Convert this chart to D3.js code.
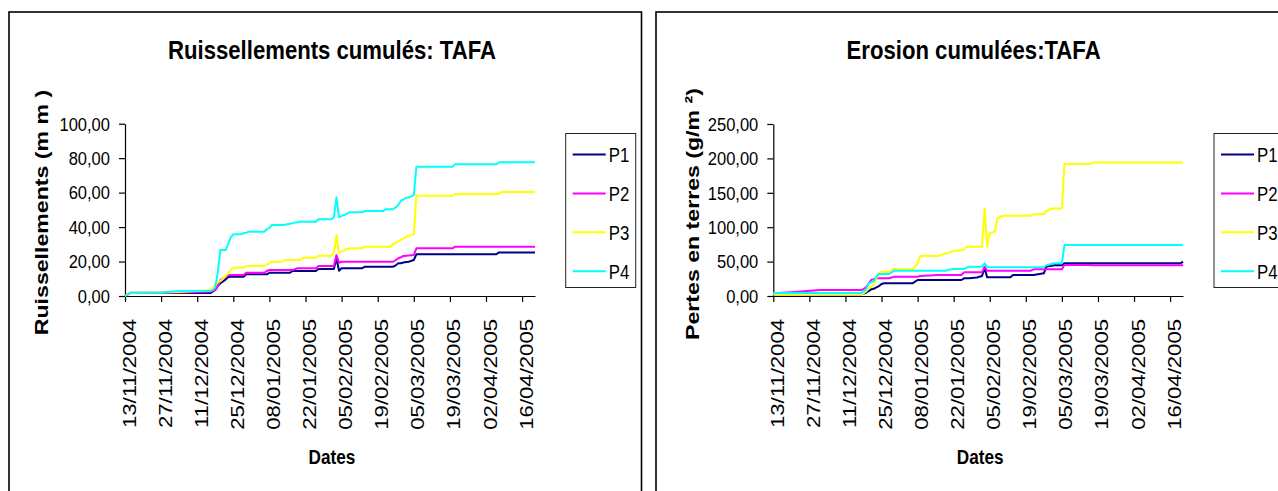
<!DOCTYPE html>
<html>
<head>
<meta charset="utf-8">
<script src="https://cdn.jsdelivr.net/npm/d3@7"></script>
<style>
  html, body { margin: 0; padding: 0; background: #ffffff; }
  svg { display: block; }
</style>
</head>
<body>
<svg id="fig" width="1278" height="491"></svg>
<script>
// ---- series ----
const seriesNames = ["P1", "P2", "P3", "P4"];
const seriesColors = ["#000080", "#FF00FF", "#FFFF00", "#00FFFF"];

// ---- x-axis tick labels (every 14 days) ----
const tickLabels = ["13/11/2004", "27/11/2004", "11/12/2004", "25/12/2004", "08/01/2005", "22/01/2005",
                    "05/02/2005", "19/02/2005", "05/03/2005", "19/03/2005", "02/04/2005", "16/04/2005"];

// ---- y-axis ticks ----
const ruisTicks = [0, 20, 40, 60, 80, 100];
const pertesTicks = [0, 50, 100, 150, 200, 250];

// ---- cumulative runoff (mm) ----
const ruisDates = ["13/11/2004", "15/11/2004", "27/11/2004", "04/12/2004", "16/12/2004", "17/12/2004",
  "18/12/2004", "19/12/2004", "20/12/2004", "22/12/2004", "23/12/2004", "24/12/2004", "25/12/2004",
  "28/12/2004", "29/12/2004", "30/12/2004", "31/12/2004", "06/01/2005", "07/01/2005", "08/01/2005",
  "09/01/2005", "13/01/2005", "14/01/2005", "16/01/2005", "17/01/2005", "18/01/2005", "19/01/2005",
  "20/01/2005", "21/01/2005", "26/01/2005", "27/01/2005", "01/02/2005", "02/02/2005", "03/02/2005",
  "04/02/2005", "05/02/2005", "06/02/2005", "08/02/2005", "13/02/2005", "14/02/2005", "21/02/2005",
  "22/02/2005", "24/02/2005", "25/02/2005", "26/02/2005", "27/02/2005", "28/02/2005", "01/03/2005",
  "02/03/2005", "03/03/2005", "05/03/2005", "06/03/2005", "20/03/2005", "21/03/2005", "06/04/2005",
  "07/04/2005", "08/04/2005", "21/04/2005"];
const ruisP1 = [0, 1.7, 1.7, 1.7, 1.7, 2.6, 3.5, 6.0, 7.4, 9.5, 11.0, 11.2, 11.2, 11.2, 11.2, 12.6, 12.6,
  12.6, 12.6, 13.5, 13.5, 13.5, 13.5, 13.5, 14.5, 14.5, 14.5, 14.5, 14.5, 14.5, 15.7, 15.7, 15.7, 21.9,
  14.7, 16.1, 16.1, 16.1, 16.1, 17.0, 17.0, 17.0, 17.0, 17.0, 17.8, 19.0, 19.0, 19.4, 19.7, 19.9, 20.9,
  24.2, 24.2, 24.2, 24.2, 25.3, 25.3, 25.3];
const ruisP2 = [0, 1.9, 1.9, 2.0, 2.4, 3.0, 3.5, 5.8, 9.3, 11.0, 12.2, 12.2, 12.2, 12.2, 12.2, 13.5, 13.5,
  13.5, 14.5, 15.1, 15.1, 15.1, 15.1, 15.1, 15.1, 15.6, 16.1, 16.1, 16.1, 16.1, 17.4, 17.4, 17.4, 23.8,
  19.3, 19.9, 19.9, 19.9, 19.9, 19.9, 19.9, 19.9, 19.9, 19.9, 20.9, 21.9, 22.5, 23.2, 23.4, 23.5, 23.8,
  27.7, 27.7, 28.6, 28.6, 28.6, 28.6, 28.6];
const ruisP3 = [0, 1.9, 2.0, 2.3, 3.3, 4.5, 6.4, 8.0, 8.7, 11.6, 13.0, 15.0, 16.4, 16.4, 16.4, 17.4, 17.4,
  17.4, 18.2, 19.0, 19.9, 19.9, 20.9, 20.9, 20.9, 20.9, 20.9, 20.9, 22.2, 22.2, 23.4, 23.4, 24.8, 35.4,
  25.0, 25.7, 26.7, 27.7, 27.7, 28.6, 28.6, 28.6, 28.6, 30.2, 31.0, 31.8, 32.5, 33.2, 34.4, 34.8, 35.8,
  58.2, 58.2, 59.2, 59.2, 59.2, 60.3, 60.3];
const ruisP4 = [0, 1.9, 2.1, 2.9, 3.1, 3.4, 5.0, 14.0, 26.7, 26.7, 30.0, 34.1, 35.8, 35.8, 36.4, 36.8, 37.3,
  37.3, 38.7, 39.5, 41.2, 41.2, 41.3, 41.9, 42.3, 42.6, 42.8, 43.1, 43.1, 43.1, 44.5, 44.5, 45.7, 57.3,
  45.7, 46.5, 47.0, 48.6, 48.6, 49.3, 49.3, 50.3, 50.3, 50.3, 51.5, 52.8, 55.3, 56.0, 57.0, 57.1, 58.6,
  75.0, 75.0, 76.4, 76.4, 77.6, 77.6, 77.6];

// ---- cumulative soil loss (g/m²) ----
const pertesDates = ["13/11/2004", "20/11/2004", "01/12/2004", "17/12/2004", "18/12/2004", "19/12/2004",
  "20/12/2004", "21/12/2004", "22/12/2004", "23/12/2004", "24/12/2004", "25/12/2004", "26/12/2004",
  "28/12/2004", "30/12/2004", "06/01/2005", "08/01/2005", "09/01/2005", "16/01/2005", "19/01/2005",
  "20/01/2005", "22/01/2005", "25/01/2005", "26/01/2005", "27/01/2005", "28/01/2005", "31/01/2005",
  "02/02/2005", "03/02/2005", "04/02/2005", "05/02/2005", "07/02/2005", "08/02/2005", "10/02/2005",
  "13/02/2005", "14/02/2005", "21/02/2005", "22/02/2005", "26/02/2005", "27/02/2005", "01/03/2005",
  "02/03/2005", "05/03/2005", "06/03/2005", "16/03/2005", "17/03/2005", "20/04/2005", "21/04/2005"];
const pertesP1 = [2.4, 2.4, 2.4, 2.4, 3.5, 4.8, 7.0, 9.7, 10.5, 12.6, 14.5, 17.4, 18.4, 18.4, 18.4, 18.4,
  23.3, 23.3, 23.3, 23.3, 23.3, 23.3, 23.3, 25.7, 25.7, 25.7, 27.0, 29.1, 40.2, 27.1, 27.1, 27.1, 27.1,
  27.1, 27.1, 30.5, 30.5, 30.5, 33.0, 42.7, 44.0, 44.6, 44.6, 47.5, 47.5, 47.5, 47.5, 50.0];
const pertesP2 = [3.9, 5.5, 8.7, 8.7, 10.0, 12.6, 18.0, 23.3, 24.5, 25.7, 25.7, 25.7, 25.7, 25.7, 28.1,
  28.1, 28.1, 29.0, 30.5, 30.5, 30.5, 30.5, 30.5, 34.4, 34.4, 34.4, 34.4, 34.4, 42.6, 36.8, 36.8, 36.8,
  36.8, 36.8, 36.8, 36.8, 36.8, 38.8, 38.8, 38.8, 38.8, 38.8, 38.8, 45.1, 45.1, 44.8, 44.6, 44.6];
const pertesP3 = [2.0, 2.2, 2.4, 2.4, 4.0, 6.5, 11.1, 14.0, 16.0, 25.7, 33.9, 35.4, 35.4, 35.4, 38.8, 38.8,
  47.5, 58.1, 58.1, 62.0, 63.0, 65.4, 66.9, 67.5, 71.7, 71.7, 71.7, 71.7, 127.5, 71.7, 91.1, 93.5, 113.0,
  116.8, 116.8, 116.8, 116.8, 118.7, 118.7, 123.7, 127.2, 127.2, 127.2, 191.7, 191.7, 194.2, 194.2, 194.2];
const pertesP4 = [4.4, 4.4, 4.4, 4.4, 7.0, 9.7, 18.4, 20.0, 21.8, 28.0, 32.0, 32.0, 32.0, 32.0, 36.8, 36.8,
  36.8, 36.8, 36.8, 36.8, 38.0, 39.2, 39.2, 39.2, 41.0, 42.6, 42.6, 42.6, 47.5, 42.0, 41.7, 41.7, 41.7,
  41.7, 41.7, 41.7, 41.7, 41.7, 41.7, 44.6, 46.5, 47.5, 47.5, 74.2, 74.2, 74.2, 74.2, 74.2];

// ---- drawing ----
const FONT = "'Liberation Sans', Arial, Helvetica, sans-serif";
const parseDate = d3.timeParse("%d/%m/%Y");
const frNum = d3.formatLocale({ decimal: ",", thousands: "\u00a0", grouping: [3], currency: ["", " €"] }).format(".2f");
const svg = d3.select("#fig");

// text helper: squeeze / stretch is applied along the string direction
function addText(g, str, o) {
  let tr = `translate(${o.x},${o.y})`;
  if (o.rotate) tr += ` rotate(${o.rotate})`;
  tr += ` scale(${o.sx || 1},1)`;
  return g.append("text")
    .text(str)
    .attr("transform", tr)
    .attr("font-family", FONT)
    .attr("font-size", o.size)
    .attr("font-weight", o.bold ? "bold" : "normal")
    .attr("text-anchor", o.anchor || "start")
    .attr("fill", "#000");
}

function drawChart(cfg) {
  const g = svg.append("g");

  g.append("rect")
    .attr("x", cfg.frame.x).attr("y", cfg.frame.y)
    .attr("width", cfg.frame.w).attr("height", cfg.frame.h)
    .attr("fill", "#fff").attr("stroke", "#000").attr("stroke-width", 1.6);

  const dates = cfg.dates.map(parseDate);
  const x = d3.scaleTime().domain(d3.extent(dates)).range([cfg.plot.left, cfg.plot.right]);
  const y = d3.scaleLinear().domain([0, cfg.ticks[cfg.ticks.length - 1]]).range([cfg.plot.bottom, cfg.plot.top]);

  // title
  addText(g, cfg.title, { x: cfg.titleX, y: 59, size: 26.5, bold: true, anchor: "middle", sx: 0.835 });

  // y axis
  const yAxis = g.append("g")
    .attr("transform", `translate(${cfg.plot.left},0)`)
    .call(d3.axisLeft(y).tickValues(cfg.ticks).tickSize(6).tickSizeOuter(0).tickFormat(""));
  yAxis.selectAll("path, line").attr("stroke", "#000").attr("stroke-width", 1.2);
  cfg.ticks.forEach(v => {
    addText(g, frNum(v), { x: cfg.plot.left - 15, y: y(v) + 6.8, size: 19, anchor: "end", sx: 0.87 });
  });

  // x axis
  const tickDates = tickLabels.map(parseDate);
  const xAxis = g.append("g")
    .attr("transform", `translate(0,${cfg.plot.bottom})`)
    .call(d3.axisBottom(x).tickValues(tickDates).tickSize(6).tickSizeOuter(0).tickFormat(""));
  xAxis.selectAll("path, line").attr("stroke", "#000").attr("stroke-width", 1.2);
  tickLabels.forEach((s, i) => {
    addText(g, s, { x: x(tickDates[i]) + 10.5, y: 319, size: 18, anchor: "end", rotate: -90, sx: 1.23 });
  });

  // axis titles
  addText(g, cfg.yTitle, { x: cfg.yTitleX, y: cfg.yTitleY, size: 18.5, bold: true, anchor: "middle", rotate: -90, sx: cfg.yTitleSx });
  addText(g, "Dates", { x: (cfg.plot.left + cfg.plot.right) / 2 + 2, y: 463.5, size: 20, bold: true, anchor: "middle", sx: 0.86 });

  // series
  const line = d3.line().x(d => x(d.date)).y(d => y(d.value));
  cfg.series.forEach((vals, k) => {
    const pts = dates.map((d, i) => ({ date: d, value: vals[i] }));
    g.append("path")
      .datum(pts)
      .attr("d", line)
      .attr("fill", "none")
      .attr("stroke", seriesColors[k])
      .attr("stroke-width", 2)
      .attr("stroke-linejoin", "round");
  });

  // legend
  const lg = g.append("g");
  lg.append("rect")
    .attr("x", cfg.legendX).attr("y", 133.5)
    .attr("width", 70).attr("height", 154)
    .attr("fill", "#fff").attr("stroke", "#222").attr("stroke-width", 1);
  seriesNames.forEach((n, k) => {
    const ly = 154.5 + k * 38.9;
    lg.append("line")
      .attr("x1", cfg.legendX + 7).attr("x2", cfg.legendX + 40)
      .attr("y1", ly).attr("y2", ly)
      .attr("stroke", seriesColors[k]).attr("stroke-width", 2);
    addText(lg, n, { x: cfg.legendX + 43, y: ly + 7.6, size: 21, anchor: "start", sx: 0.8 });
  });
}

drawChart({
  frame: { x: 9, y: 12, w: 632.5, h: 520 },
  plot: { left: 125, right: 535, top: 123.7, bottom: 296 },
  title: "Ruissellements cumulés: TAFA",
  titleX: 332,
  yTitle: "Ruissellements  (m m )",
  yTitleX: 48, yTitleY: 212.5, yTitleSx: 1.25,
  ticks: ruisTicks,
  dates: ruisDates,
  series: [ruisP1, ruisP2, ruisP3, ruisP4],
  legendX: 565.7
});

drawChart({
  frame: { x: 656, y: 12, w: 700, h: 520 },
  plot: { left: 773.3, right: 1183, top: 124, bottom: 296 },
  title: "Erosion cumulées:TAFA",
  titleX: 973.6,
  yTitle: "Pertes en terres (g/m ²)",
  yTitleX: 699, yTitleY: 214, yTitleSx: 1.25,
  ticks: pertesTicks,
  dates: pertesDates,
  series: [pertesP1, pertesP2, pertesP3, pertesP4],
  legendX: 1214
});
</script>
</body>
</html>
